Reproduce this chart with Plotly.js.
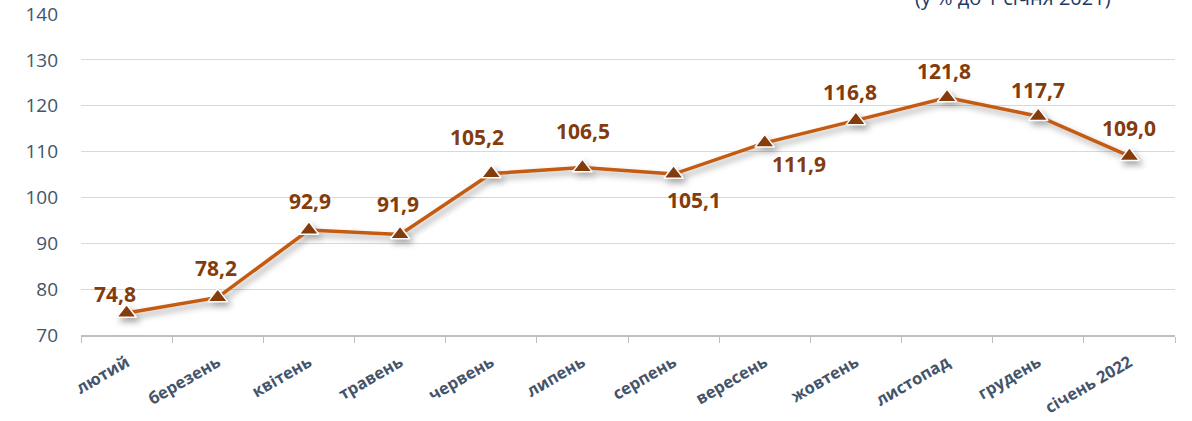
<!DOCTYPE html>
<html><head><meta charset="utf-8">
<script src="https://cdn.plot.ly/plotly-3.0.1.min.js"></script>
<style>html,body{margin:0;padding:0;background:#fff}#chart{width:1192px;height:421px}</style>
</head><body><div id="chart"></div>
<script>
const categories = ["лютий","березень","квітень","травень","червень","липень","серпень","вересень","жовтень","листопад","грудень","січень 2022"];
const values = [74.8,78.2,92.9,91.9,105.2,106.5,105.1,111.9,116.8,121.8,117.7,109.0];

// label placement (pixels) – styling only
const labelDx = [-12,-2,1,-2,-14,1,20,34,-6,-3,0,0];
const labelDy = [19,29,29,31,37,37,-26,-21,28,26,26,28];

const labels = values.map(v => v.toFixed(1).replace('.', ','));

const lineTrace = {
  x: categories, y: values, type: 'scatter', mode: 'lines+markers',
  line: {color: '#C55A11', width: 3.5},
  marker: {symbol: 'triangle-up', size: 17, color: '#843C0C', line: {color: '#FFFFFF', width: 1.5}},
  hoverinfo: 'skip', cliponaxis: false
};
const FONT = 'Open Sans, Liberation Sans, sans-serif';
const annotations = categories.map((c, i) => ({
  x: c, y: values[i], xref: 'x', yref: 'y', text: labels[i], showarrow: false,
  xanchor: 'center', yanchor: 'middle', xshift: labelDx[i], yshift: labelDy[i],
  font: {family: FONT, size: 21, color: '#843C0C', weight: 'bold'}
}));
annotations.push({
  xref: 'paper', yref: 'paper', x: 1, y: 1.0, xshift: -62, yshift: 17, xanchor: 'right', yanchor: 'middle',
  text: '(у % до 1 січня 2021)', showarrow: false,
  font: {family: FONT, size: 20, color: '#203864'}
});
const layout = {
  width: 1192, height: 421,
  margin: {l: 81, r: 17, t: 14, b: 86},
  paper_bgcolor: '#fff', plot_bgcolor: '#fff',
  showlegend: false,
  font: {family: FONT, color: '#44546A'},
  xaxis: {
    type: 'category', range: [-0.5, categories.length - 0.5], tickangle: -30, tickson: 'boundaries',
    ticks: 'outside', ticklen: 6, tickcolor: '#BFBFBF', tickwidth: 1,
    showline: true, linecolor: '#BFBFBF', linewidth: 1.5, showgrid: false,
    ticklabelstandoff: 10,
    tickfont: {size: 16.5, color: '#44546A', weight: 'bold'}
  },
  yaxis: {
    range: [70, 140], dtick: 10, showgrid: true, gridcolor: '#D9D9D9', gridwidth: 1.2,
    zeroline: false, showline: false, ticks: '', ticklabelstandoff: 22,
    tickfont: {size: 19, color: '#44546A'}
  },
  annotations: annotations
};
Plotly.newPlot('chart', [lineTrace], layout, {staticPlot: true}).then(() => {
  const traces = document.querySelectorAll('.scatterlayer .trace');
  if (traces[0]) traces[0].style.filter = 'drop-shadow(3px 4px 3px rgba(0,0,0,0.35))';
});
</script></body></html>
